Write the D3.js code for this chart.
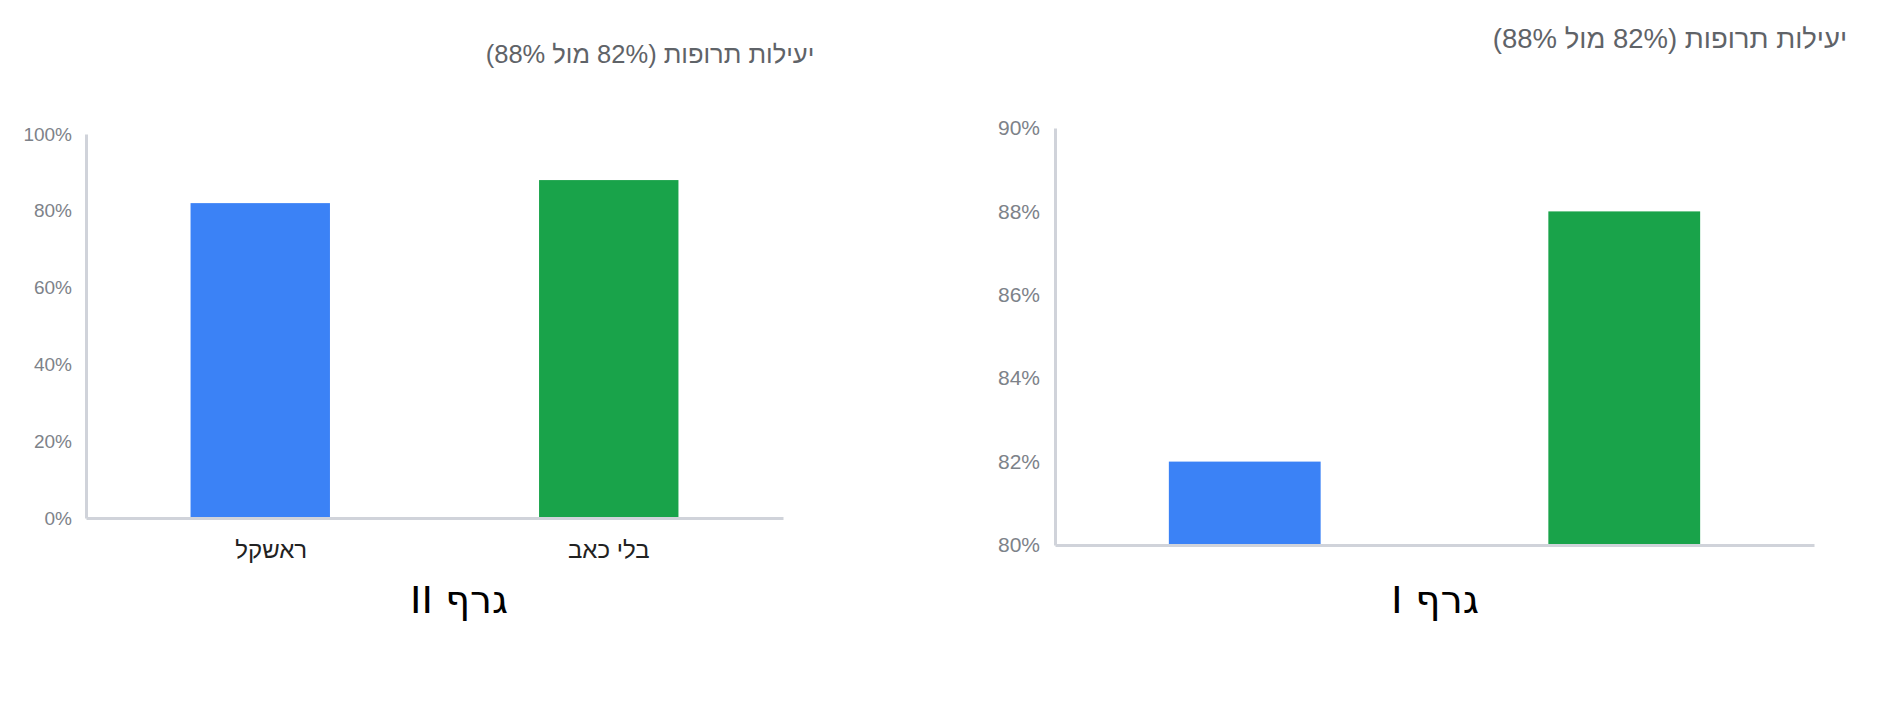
<!DOCTYPE html>
<html lang="he">
<head>
<meta charset="utf-8">
<script src="https://cdn.jsdelivr.net/npm/d3@7"></script>
<style>
  body { margin: 0; background: #fff; }
  svg { display: block; }
  .tick text { font-family: Arial, "Liberation Sans", sans-serif; fill: #7d8289; }
</style>
</head>
<body>
<div id="chart"></div>
<script>
// 1: DATA
const categories = ["ראשקל", "בלי כאב"];
const efficacy = [82, 88];
const chartTitle = "יעילות תרופות (82% מול 88%)";
const ticksGraph2 = [0, 20, 40, 60, 80, 100];
const ticksGraph1 = [80, 82, 84, 86, 88, 90];
const captionGraph2 = "גרף II";
const captionGraph1 = "גרף I";

const colors = ["#3b82f6", "#19a34a"];

const svg = d3.select("#chart")
    .append("svg")
    .attr("width", 1884)
    .attr("height", 709);

// one function draws both panels, layout passed in
function drawPanel(cfg) {
    const g = svg.append("g");

    const x = d3.scaleBand()
        .domain(categories)
        .range([cfg.left, cfg.right])
        .padding(0);

    const y = d3.scaleLinear()
        .domain(d3.extent(cfg.ticks))
        .range([cfg.bottom, cfg.top]);

    const barW = x.bandwidth() * 0.4;

    // bars
    g.selectAll(".bar")
        .data(categories)
        .enter().append("rect")
        .attr("class", "bar")
        .attr("x", d => x(d) + (x.bandwidth() - barW) / 2)
        .attr("width", barW)
        .attr("y", (d, i) => y(efficacy[i]))
        .attr("height", (d, i) => y(cfg.ticks[0]) - y(efficacy[i]))
        .attr("fill", (d, i) => colors[i]);

    // y axis
    const yAxis = g.append("g")
        .attr("transform", `translate(${cfg.left},0)`)
        .call(d3.axisLeft(y).tickValues(cfg.ticks).tickSize(0).tickPadding(cfg.tickPad).tickFormat(d => d + "%"));
    yAxis.select(".domain").attr("stroke", "#d0d3da").attr("stroke-width", 3);
    yAxis.selectAll("text").style("font-size", cfg.tickFont + "px");

    // baseline
    const xAxis = g.append("g")
        .attr("transform", `translate(0,${cfg.bottom})`)
        .call(d3.axisBottom(x).tickSize(0).tickPadding(cfg.labelPad).tickFormat(cfg.showLabels ? (d => d) : () => ""));
    xAxis.select(".domain").attr("stroke", "#d0d3da").attr("stroke-width", 3);
    xAxis.selectAll("text")
        .attr("direction", "rtl")
        .attr("dx", (d, i) => i === 0 ? 11 : 0)
        .style("font-size", "24px")
        .style("fill", "#222");

    // title
    g.append("text")
        .attr("x", cfg.titleX)
        .attr("y", cfg.titleY)
        .attr("direction", "rtl")
        .attr("text-anchor", "middle")
        .style("font-family", "Arial, 'Liberation Sans', sans-serif")
        .style("font-size", cfg.titleFont + "px")
        .style("fill", "#5f6368")
        .text(chartTitle);

    // caption under chart
    g.append("text")
        .attr("x", cfg.captionX)
        .attr("y", 613)
        .attr("direction", "rtl")
        .attr("text-anchor", "middle")
        .attr("textLength", cfg.captionW)
        .attr("lengthAdjust", "spacingAndGlyphs")
        .style("font-family", "'DejaVu Sans', sans-serif")
        .style("font-size", "38px")
        .style("fill", "#000")
        .text(cfg.caption);
}

drawPanel({
    left: 86, right: 783, top: 134, bottom: 518,
    ticks: ticksGraph2, tickFont: 19, tickPad: 14, labelPad: 23,
    showLabels: true,
    titleX: 650, titleY: 63, titleFont: 25.5,
    captionX: 459, captionW: 98, caption: captionGraph2
});

drawPanel({
    left: 1055, right: 1814, top: 128, bottom: 545,
    ticks: ticksGraph1, tickFont: 21, tickPad: 15, labelPad: 16,
    showLabels: false,
    titleX: 1670, titleY: 48, titleFont: 27.5,
    captionX: 1435, captionW: 88, caption: captionGraph1
});
</script>
</body>
</html>
